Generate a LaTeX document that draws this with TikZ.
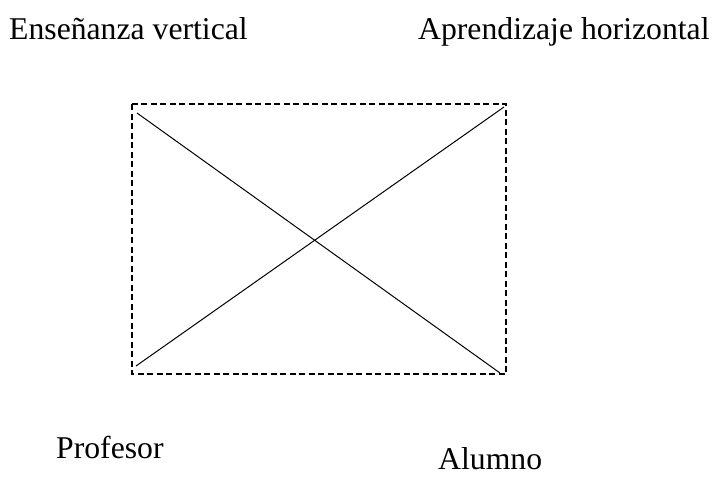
\documentclass[tikz,border=0pt]{standalone}
\usepackage{fontspec}
\setmainfont{Liberation Serif}
\begin{document}
\begin{tikzpicture}[x=1pt,y=-1pt,
  lbl/.style={anchor=base west,inner sep=0pt,text depth=0pt,font=\fontsize{31.7}{36}\selectfont},
  frame/.style={draw,line width=1.5pt,dash pattern=on 6pt off 3.5pt},
  diag/.style={draw,line width=1pt}]
\useasboundingbox (0,0) rectangle (715,477);
\node[lbl] (ens) at (9,39) {Enseñanza vertical};
\node[lbl] (apr) at (418,39) {Aprendizaje horizontal};
\node[lbl] (pro) at (56,458) {Profesor};
\node[lbl] (alu) at (438,469) {Alumno};
\coordinate (tl) at (132,104);
\coordinate (br) at (506,374);
\draw[frame] (tl) rectangle (br);
\coordinate (d1a) at (137,113);
\coordinate (d1b) at (500,373);
\coordinate (d2a) at (136,366);
\coordinate (d2b) at (504,107);
\draw[diag] (d1a) -- (d1b);
\draw[diag] (d2a) -- (d2b);
\end{tikzpicture}
\end{document}
